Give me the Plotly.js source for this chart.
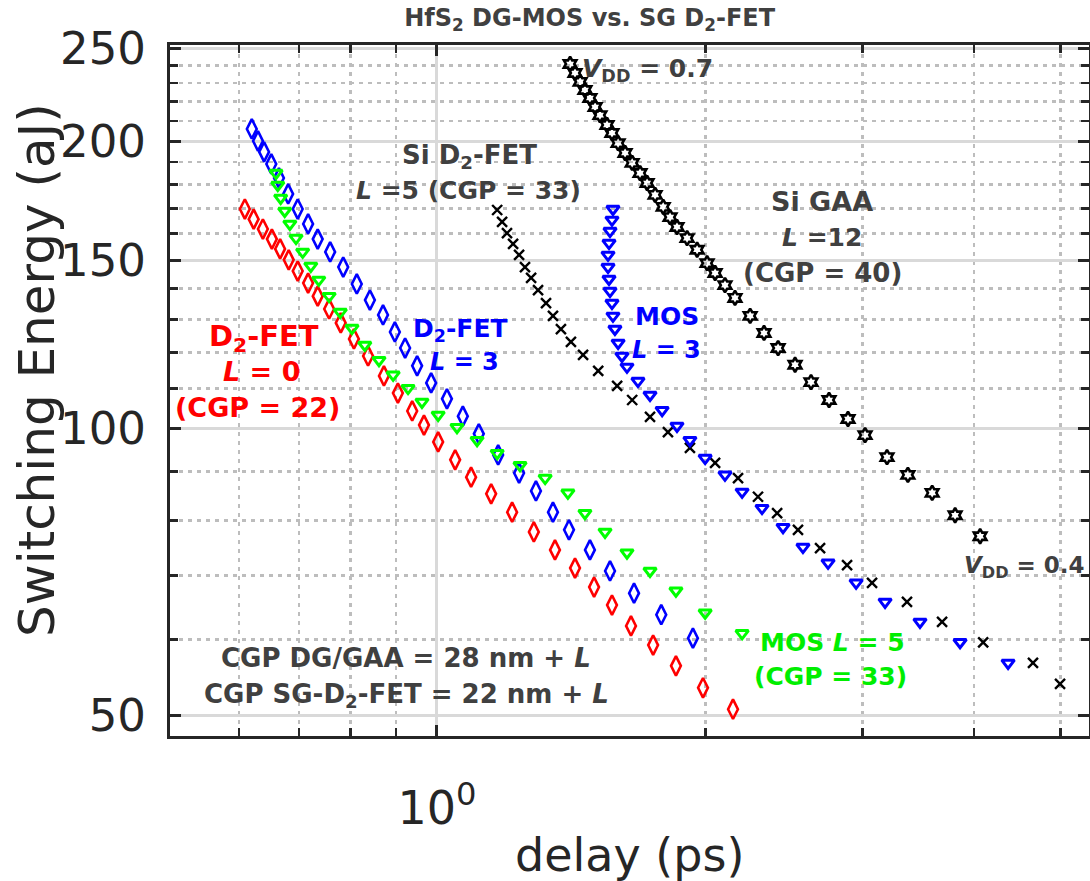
<!DOCTYPE html>
<html>
<head>
<meta charset="utf-8">
<script src="https://cdn.plot.ly/plotly-3.0.1.min.js"></script>
<style>html,body{margin:0;padding:0;background:#fff;}#chart{width:1090px;height:881px;}</style>
</head>
<body>
<div id="chart"></div>
<script>
// D2-FET L = 0 (CGP = 22)
const redDelay = [0.609,0.623,0.638,0.653,0.667,0.682,0.698,0.717,0.735,0.757,0.780,0.807,0.837,0.872,0.904,0.938,0.967,1.003,1.048,1.092,1.150,1.214,1.284,1.356,1.428,1.500,1.571,1.650,1.747,1.853,1.987,2.147];
const redEnergy = [169.7,165.6,161.7,157.8,154.1,150.1,146.1,141.9,137.5,133.3,128.9,124.0,119.0,113.4,108.8,104.2,100.7,96.7,92.6,88.8,85.3,81.6,77.8,74.5,71.3,68.1,65.2,62.0,59.2,56.3,53.4,50.7];
// D2-FET L = 3
const blueDiamondDelay = [0.620,0.630,0.640,0.652,0.665,0.681,0.698,0.717,0.735,0.759,0.785,0.813,0.841,0.870,0.897,0.921,0.950,0.985,1.026,1.069,1.114,1.171,1.236,1.291,1.349,1.406,1.484,1.563,1.663,1.784,1.936];
const blueDiamondEnergy = [205.9,200.0,194.8,189.2,182.9,176.0,169.7,163.7,157.8,153.0,147.5,141.6,136.2,131.4,126.1,121.3,116.2,111.5,107.3,102.9,98.6,93.7,89.7,85.9,81.6,78.2,74.5,70.8,67.1,63.7,60.2];
// MOS L = 5 (CGP = 33)
const greenDelay = [0.660,0.663,0.668,0.675,0.684,0.695,0.707,0.722,0.737,0.757,0.779,0.803,0.830,0.861,0.893,0.928,0.962,1.003,1.053,1.109,1.168,1.239,1.322,1.402,1.465,1.543,1.633,1.733,1.853,1.998,2.198];
const greenEnergy = [185.1,179.8,174.3,168.9,163.7,158.2,153.0,147.9,143.0,137.5,132.3,127.3,122.2,117.8,113.7,110.1,106.5,103.2,100.2,97.1,94.1,91.4,88.6,85.5,81.4,77.8,74.0,70.8,67.5,64.0,60.9];
// MOS L = 3
const mosL3Delay = [1.575,1.571,1.563,1.559,1.555,1.555,1.559,1.563,1.571,1.575,1.583,1.596,1.612,1.633,1.680,1.733,1.788,1.858,1.921,1.998,2.103,2.198,2.314,2.443,2.572,2.744,2.950,3.179,3.479,3.858,4.367];
const mosL3Energy = [169.7,165.3,160.9,156.3,151.9,147.5,143.3,139.2,135.2,131.1,127.0,122.8,119.0,115.9,112.0,108.3,104.4,100.5,97.1,93.0,89.3,85.7,82.4,78.7,75.0,72.2,68.8,65.7,62.6,59.6,56.7];
// Si D2-FET L = 5 (CGP = 33)
const siD2Delay = [1.168,1.183,1.198,1.217,1.236,1.255,1.275,1.298,1.325,1.349,1.377,1.413,1.458,1.516,1.592,1.655,1.733,1.815,1.921,2.050,2.175,2.290,2.406,2.539,2.688,2.882,3.074,3.364,3.683,4.095,4.657,4.994];
const siD2Energy = [169.3,164.5,160.1,156.0,151.9,147.5,143.7,139.5,135.2,131.1,127.0,123.1,119.3,114.8,110.7,107.0,102.7,99.0,95.3,91.9,88.6,84.7,81.4,78.2,74.8,71.8,68.8,65.7,62.6,59.6,56.7,53.9];
// Si GAA L = 12 (CGP = 40)
const siGaaDelay = [1.410,1.428,1.447,1.465,1.484,1.504,1.523,1.551,1.571,1.596,1.625,1.655,1.689,1.720,1.756,1.793,1.825,1.858,1.907,1.957,2.008,2.050,2.103,2.158,2.244,2.326,2.412,2.520,2.626,2.751,2.889,3.019,3.195,3.372,3.590,3.809,4.063];
const siGaaEnergy = [240.9,235.7,230.7,226.2,221.9,217.1,212.9,207.9,203.9,199.0,194.3,189.7,185.1,180.7,175.6,170.6,166.4,162.5,158.2,153.8,148.9,145.4,141.2,136.9,131.1,125.8,121.3,116.5,111.7,107.0,102.2,98.3,93.2,89.3,85.5,81.0,77.0];

// ticks
const xMajorTicks = [1];
const xMajorLabels = ['10<sup>0</sup>'];
const xMinorTicks = [0.6,0.7,0.8,0.9,2,3,4,5];
const yMajorTicks = [50,100,150,200,250];
const yMajorLabels = ['50','100','150','200','250'];
const yMinorTicks = [60,70,80,90,110,120,130,140,160,170,180,190,210,220,230,240];

function series(x, y, symbol, color, size, lw) {
  return {x: x, y: y, type: 'scatter', mode: 'markers', showlegend: false, cliponaxis: false,
    marker: {symbol: symbol, size: size, color: color, line: {color: color, width: lw}}};
}

const traces = [
  series(redDelay, redEnergy, 'diamond-tall-open', '#ff0000', 14, 2.6),
  series(blueDiamondDelay, blueDiamondEnergy, 'diamond-tall-open', '#0000ff', 14, 2.6),
  series(greenDelay, greenEnergy, 'triangle-down-open', '#00ff00', 11, 3),
  series(siD2Delay, siD2Energy, 'x-thin-open', '#000000', 10, 2.4),
  series(mosL3Delay, mosL3Energy, 'triangle-down-open', '#0000ff', 11, 3),
  series(siGaaDelay, siGaaEnergy, 'hexagram-open', '#000000', 11, 2.6)
];

const gray = '#404040';
const F = 'DejaVu Sans';
function ann(text, x, y, color, size, extra) {
  return Object.assign({text: '<b>' + text + '</b>', x: x, y: y, xref: 'paper', yref: 'paper',
    showarrow: false, xanchor: 'center', yanchor: 'middle',
    font: {family: F, size: size, color: color}}, extra || {});
}

const annotations = [
  ann('Si D<sub>2</sub>-FET', 0.3264, 0.838, gray, 26),
  ann('<i>L</i> =5 (CGP = 33)', 0.3243, 0.790, gray, 25),
  ann('<i>V</i><sub>DD</sub> = 0.7', 0.520, 0.964, gray, 25),
  ann('Si GAA', 0.7095, 0.774, gray, 27),
  ann('<i>L</i> =12', 0.7095, 0.7207, gray, 25),
  ann('(CGP = 40)', 0.7095, 0.670, gray, 26),
  ann('D<sub>2</sub>-FET', 0.1023, 0.576, '#ff0000', 29),
  ann('<i>L</i> = 0', 0.1001, 0.5268, '#ff0000', 27),
  ann('(CGP = 22)', 0.0947, 0.4761, '#ff0000', 27),
  ann('D<sub>2</sub>-FET', 0.3156, 0.5876, '#0000ff', 25),
  ann('<i>L</i> = 3', 0.321, 0.5412, '#0000ff', 24),
  ann('MOS', 0.5408, 0.6064, '#0000ff', 25),
  ann('<i>L</i> = 3', 0.5408, 0.5586, '#0000ff', 24),
  ann('CGP DG/GAA = 28 nm + <i>L</i>', 0.2563, 0.1129, gray, 26),
  ann('CGP SG-D<sub>2</sub>-FET = 22 nm + <i>L</i>', 0.2569, 0.0593, gray, 26),
  ann('MOS <i>L</i> = 5', 0.7204, 0.136, '#00ee00', 25),
  ann('(CGP = 33)', 0.7182, 0.0854, '#00ee00', 25),
  ann('<i>V</i><sub>DD</sub> = 0.4', 0.9978, 0.2446, gray, 23, {xanchor: 'right'}),
  {text: 'Switching Energy (aJ)', x: -0.1447, y: 0.5297, xref: 'paper', yref: 'paper', showarrow: false,
   textangle: -90, xanchor: 'center', yanchor: 'middle', font: {family: F, size: 50, color: '#262626'}},
  {text: 'delay (ps)', x: 0.5, y: -0.1722, xref: 'paper', yref: 'paper', showarrow: false,
   xanchor: 'center', yanchor: 'middle', font: {family: F, size: 46, color: '#262626'}}
];

const axisCommon = {
  type: 'log', ticks: 'inside', ticklen: 11, tickwidth: 3, tickcolor: '#262626',
  showline: true, linewidth: 3, linecolor: '#262626', mirror: 'ticks',
  showgrid: true, gridcolor: '#d9d9d9', gridwidth: 3, zeroline: false, automargin: false
};

const layout = {
  width: 1090, height: 881,
  margin: {l: 170, r: 1, t: 45, b: 145},
  paper_bgcolor: '#ffffff', plot_bgcolor: '#ffffff',
  title: {text: '<b>HfS<sub>2</sub> DG-MOS vs. SG D<sub>2</sub>-FET</b>', x: 0.541, xanchor: 'center',
          y: 0.98, yanchor: 'middle', font: {family: F, size: 24, color: gray}},
  xaxis: Object.assign({}, axisCommon, {
    range: [-0.2993, 0.7309], tickmode: 'array', tickvals: xMajorTicks, ticktext: xMajorLabels,
    tickfont: {family: F, size: 46, color: '#262626'}, ticklabelstandoff: 30,
    minor: {tickmode: 'array', tickvals: xMinorTicks, ticks: 'inside', ticklen: 8, tickwidth: 2.5, tickcolor: '#262626',
            showgrid: true, gridcolor: '#bdbdbd', gridwidth: 2.5, griddash: '4px,5px'}
  }),
  yaxis: Object.assign({}, axisCommon, {
    range: [1.67694, 2.40172], tickmode: 'array', tickvals: yMajorTicks, ticktext: yMajorLabels,
    tickfont: {family: F, size: 45, color: '#262626'}, ticklabelstandoff: 12,
    minor: {tickmode: 'array', tickvals: yMinorTicks, ticks: 'inside', ticklen: 8, tickwidth: 2.5, tickcolor: '#262626',
            showgrid: true, gridcolor: '#bdbdbd', gridwidth: 2.5, griddash: '4px,5px'}
  }),
  annotations: annotations
};

Plotly.newPlot('chart', traces, layout, {displayModeBar: false, staticPlot: true});
</script>
</body>
</html>
